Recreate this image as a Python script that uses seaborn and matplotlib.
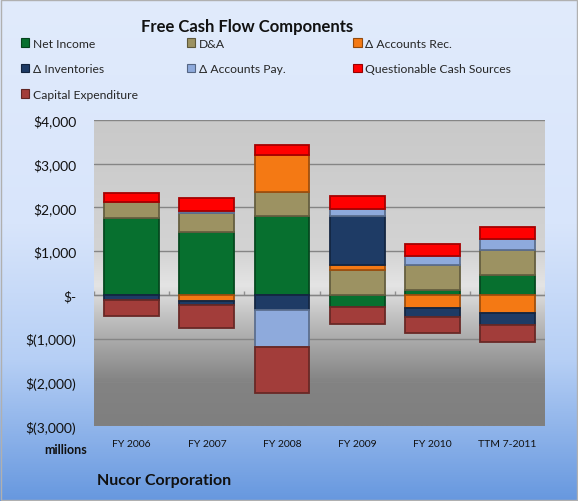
import numpy as np
import pandas as pd
import matplotlib
matplotlib.use("Agg")
import matplotlib.pyplot as plt
import matplotlib.colors as mcolors
from matplotlib.patches import Patch
from matplotlib.ticker import FuncFormatter
import seaborn as sns

# data (USD millions)
categories = ["FY 2006", "FY 2007", "FY 2008", "FY 2009", "FY 2010", "TTM 7-2011"]
net_income = [1758, 1440, 1812, -265, 114, 447]
d_and_a = [364, 440, 538, 561, 576, 591]
accounts_rec = [0, -136, 849, 121, -288, -402]
inventories = [-120, -90, -341, 1114, -227, -280]
accounts_pay = [0, 35, -857, 174, 197, 250]
questionable = [220, 303, 227, 296, 288, 258]
capex = [-370, -530, -1038, -394, -356, -387]

series_names = ["Net Income", "D&A", "Δ Accounts Rec.", "Δ Inventories",
                "Δ Accounts Pay.", "Questionable Cash Sources", "Capital Expenditure"]
series_values = [net_income, d_and_a, accounts_rec, inventories,
                 accounts_pay, questionable, capex]
colors = ["#07702f", "#9c9262", "#f47914", "#1e3b65", "#8eaadc", "#ff0000", "#a23d3a"]
yticks = [4000, 3000, 2000, 1000, 0, -1000, -2000, -3000]

sns.set_style("white")
plt.rcParams['font.family'] = ['Lato', 'DejaVu Sans']

fig = plt.figure(figsize=(5.78, 5.02), dpi=100)

# figure background gradient
bg = fig.add_axes([0, 0, 1, 1], zorder=-10)
bg_cmap = mcolors.LinearSegmentedColormap.from_list(
    "bg", [(0, "#e1ebfc"), (0.45, "#d8e5fb"), (0.72, "#b6cff5"), (1, "#6798df")])
bg.imshow(np.linspace(0, 1, 256).reshape(-1, 1), aspect="auto", cmap=bg_cmap,
          extent=[0, 1, 0, 1], origin="upper")
bg.add_patch(plt.Rectangle((0.002, 0.002), 0.996, 0.996, fill=False,
                           edgecolor="#b0b0b0", lw=1))
bg.set_xlim(0, 1); bg.set_ylim(0, 1)
bg.axis("off")

ax = fig.add_axes([0.163, 0.149, 0.78, 0.61])

# plot-area gradient
pa_cmap = mcolors.LinearSegmentedColormap.from_list(
    "pa", [(0, "#c9c9c9"), (3 / 7, "#d3d3d3"), (3.8 / 7, "#e4e4e4"),
           (4.6 / 7, "#bdbdbd"), (6 / 7, "#838383"), (1, "#7f7f7f")])
ax.imshow(np.linspace(0, 1, 256).reshape(-1, 1), aspect="auto", cmap=pa_cmap,
          extent=[-0.5, 5.5, -3000, 4000], origin="upper", zorder=0)

pos_base = np.zeros(len(categories))
neg_base = np.zeros(len(categories))
for name, vals, col in zip(series_names, series_values, colors):
    v = np.array(vals, dtype=float)
    bottom = np.where(v >= 0, pos_base, neg_base)
    keep = v != 0
    edge = tuple(c * 0.65 for c in mcolors.to_rgb(col))
    df = pd.DataFrame({"period": np.array(categories)[keep], "value": v[keep]})
    sns.barplot(data=df, x="period", y="value", order=categories, bottom=bottom[keep],
                color=col, saturation=1, width=0.73, errorbar=None,
                edgecolor=edge, linewidth=1.3, ax=ax, zorder=3)
    pos_base = pos_base + np.where(v > 0, v, 0)
    neg_base = neg_base + np.where(v < 0, v, 0)

ax.set_xlim(-0.5, 5.5)
ax.set_ylim(-3000, 4000)
ax.set_yticks(yticks)
ax.yaxis.set_major_formatter(FuncFormatter(
    lambda y, _: "$-" if y == 0 else (f"${y:,.0f}" if y > 0 else f"$({-y:,.0f})")))
ax.grid(axis="y", color="#858585", lw=1, zorder=1)
ax.set_axisbelow(False)
for s in ax.spines.values():
    s.set_visible(False)
ax.axhline(0, color="#a0a0a0", lw=1, zorder=2)
ax.vlines(np.arange(-0.5, 6, 1), 0, 80, color="#909090", lw=1, zorder=2)
ax.tick_params(axis="y", length=0, pad=13, labelsize=10, colors="#111111")
ax.tick_params(axis="x", length=0, pad=9, labelsize=7.5, colors="#111111")
ax.set_xlabel("")
ax.set_ylabel("")

fig.text(0.427, 0.947, "Free Cash Flow Components", ha="center", va="center",
         fontsize=12, fontweight="bold", color="#111111")
fig.text(0.113, 0.103, "millions", ha="center", va="center",
         fontsize=9, fontweight="bold", color="#111111")
fig.text(0.167, 0.041, "Nucor Corporation", ha="left", va="center",
         fontsize=11.5, fontweight="bold", color="#111111")

# legend: three columns placed across the top
handles = [Patch(facecolor=c, edgecolor=tuple(x * 0.6 for x in mcolors.to_rgb(c)), lw=0.8)
           for c in colors]
columns = [[0, 3, 6], [1, 4], [2, 5]]
col_x = [0.036, 0.323, 0.611]
for idxs, x in zip(columns, col_x):
    leg = fig.legend([handles[i] for i in idxs], [series_names[i] for i in idxs],
                     loc="upper left", bbox_to_anchor=(x, 0.923), frameon=False,
                     fontsize=8.7, handlelength=0.7, handleheight=0.7,
                     handletextpad=0.3, labelspacing=1.2, borderaxespad=0,
                     borderpad=0)

fig.savefig("out.png", dpi=100)
